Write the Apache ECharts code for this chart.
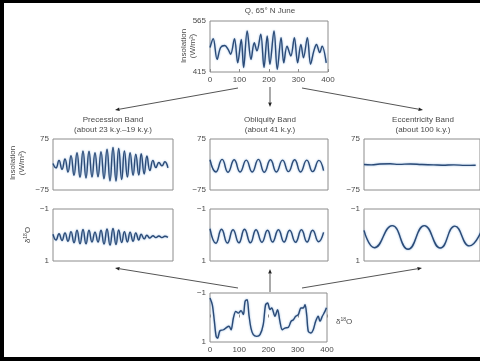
<!DOCTYPE html>
<html>
<head>
<meta charset="utf-8">
<script src="https://cdn.jsdelivr.net/npm/echarts@6/dist/echarts.min.js"></script>
<style>
html, body { margin: 0; padding: 0; background: #fff; }
#main { width: 480px; height: 361px; }
</style>
</head>
<body>
<div id="main"></div>
<script>
// ages in k.y. before present
const qAge = [0, 11, 24, 36, 50, 61, 70, 83, 94, 106, 114, 126, 139, 150, 159, 172, 183, 194, 203, 217, 228, 241, 250, 261, 274, 286, 297, 308, 317, 330, 341, 352, 361, 372, 380, 394];
const qVal = [487, 513, 452, 487, 493, 482, 467, 513, 442, 511, 428, 536, 452, 501, 477, 526, 428, 521, 438, 536, 423, 516, 442, 491, 462, 516, 442, 496, 457, 516, 438, 477, 496, 472, 491, 442];

const preAge = [0, 10, 20, 30, 40, 50, 60, 70, 80, 90, 100, 110, 120, 130, 140, 150, 160, 170, 180, 190, 200, 210, 219, 229, 238, 248, 257, 267, 276, 286, 294, 304, 313, 323, 333, 343, 353, 363, 373, 383];
const preIns = [3, -10, 12, -14, 16, -22, 26, -32, 35, -38, 40, -40, 39, -37, 35, -36, 38, -42, 45, -48, 50, -49, 47, -44, 40, -37, 35, -32, 30, -31, 32, -28, 25, -18, 12, -9, 6, -4, 8, -10];
const preD18 = [-0.03, 0.19, -0.05, 0.21, -0.08, 0.24, -0.13, 0.30, -0.18, 0.34, -0.21, 0.34, -0.18, 0.27, -0.11, 0.27, -0.18, 0.35, -0.23, 0.39, -0.25, 0.37, -0.19, 0.29, -0.13, 0.27, -0.11, 0.24, -0.08, 0.19, -0.03, 0.15, 0.01, 0.12, 0.03, 0.10, 0.04, 0.10, 0.05, 0.09];

const oblAge = [0, 20, 41, 61, 82, 102, 123, 143, 164, 184, 205, 225, 246, 266, 287, 307, 328, 348, 369, 385];
const oblIns = [14, -22, 15, -23, 14, -22, 13, -22, 15, -23, 14, -22, 13, -21, 14, -22, 13, -21, 12, -18];
const oblAgeD = [0, 20, 39, 59, 78, 98, 117, 137, 156, 176, 195, 212, 232, 251, 270, 290, 310, 329, 348, 368, 385];
const oblD18 = [-0.24, 0.32, -0.22, 0.31, -0.2, 0.3, -0.22, 0.3, -0.2, 0.28, -0.18, 0.27, -0.2, 0.27, -0.18, 0.28, -0.2, 0.27, -0.18, 0.26, -0.1];

const eccAge = [0, 25, 55, 90, 120, 160, 200, 240, 270, 310, 350, 385];
const eccIns = [0, -1, 1.5, 2, 0.5, 1.5, 0, -1, -2, -1, -2.5, -2];
const eccAgeD = [0, 36, 97, 152, 208, 263, 313, 363, 410];
const eccD18 = [-0.18, 0.49, -0.36, 0.55, -0.36, 0.5, -0.34, 0.42, -0.3];

const stackAge = [0, 8, 15, 21, 26, 34, 46, 57, 65, 72, 80, 88, 97, 106, 114, 120, 127, 133, 140, 148, 160, 171, 182, 190, 197, 205, 211, 222, 231, 239, 247, 256, 268, 277, 285, 293, 302, 311, 319, 325, 331, 336, 345, 353, 361, 370, 376, 384, 393, 398];
const stackD18 = [-0.80, -0.52, 0.16, 0.77, 0.84, 0.54, 0.50, 0.40, 0.36, 0.50, 0.02, -0.25, -0.18, -0.28, -0.12, -0.66, -0.73, -0.12, 0.43, 0.70, 0.77, 0.70, 0.29, -0.52, -0.59, -0.32, -0.39, -0.05, -0.32, 0.16, 0.50, 0.43, 0.40, 0.16, 0.09, -0.05, -0.12, -0.39, -0.39, -0.52, -0.05, 0.56, 0.63, 0.50, 0.16, -0.05, 0.16, -0.05, -0.25, -0.40];

const insRange = [-75, 75];
const d18Range = [-1, 1];
const qRange = [415, 565];

const FONT = '"Liberation Sans", Arial, sans-serif';
const TXT = '#4a4a4a';
const LINE = '#2b4a76';
const minus = v => String(v).replace('-', '\u2212');

// layout: [left, top, width, height]
const panels = [
    { box: [210, 21, 118, 51], age: qAge, val: qVal, range: qRange, inv: false, ticks: true, smooth: 0.35 },
    { box: [53, 139, 120, 51], age: preAge, val: preIns, range: insRange, inv: false, ticks: false, smooth: 0.5 },
    { box: [210, 139, 118, 51], age: oblAge, val: oblIns, range: insRange, inv: false, ticks: false, smooth: 0.5 },
    { box: [364, 139, 120, 51], age: eccAge, val: eccIns, range: insRange, inv: false, ticks: false, smooth: 0.5 },
    { box: [53, 209, 120, 52], age: preAge, val: preD18, range: d18Range, inv: true, ticks: false, smooth: 0.5 },
    { box: [210, 209, 118, 52], age: oblAgeD, val: oblD18, range: d18Range, inv: true, ticks: false, smooth: 0.5 },
    { box: [364, 209, 120, 52], age: eccAgeD, val: eccD18, range: d18Range, inv: true, ticks: false, smooth: 0.5 },
    { box: [210, 293, 117, 49], age: stackAge, val: stackD18, range: d18Range, inv: true, ticks: true, smooth: 0.3 }
];

const grid = [], xAxis = [], yAxis = [], series = [];
panels.forEach((p, i) => {
    grid.push({
        left: p.box[0], top: p.box[1], width: p.box[2], height: p.box[3],
        show: true, borderColor: '#8c8c8c', borderWidth: 1
    });
    xAxis.push({
        gridIndex: i, type: 'value', min: 0, max: 400, interval: 100,
        axisLine: { show: false },
        splitLine: { show: false },
        axisTick: { show: p.ticks, inside: true, length: 3, lineStyle: { color: '#8c8c8c' } },
        axisLabel: { show: p.ticks, fontSize: 8, color: TXT, margin: 4, fontFamily: FONT }
    });
    yAxis.push({
        gridIndex: i, type: 'value', min: p.range[0], max: p.range[1], inverse: p.inv,
        axisLine: { show: false },
        splitLine: { show: false },
        axisTick: { show: false },
        axisLabel: {
            customValues: p.range, formatter: minus,
            fontSize: 8, color: TXT, margin: 4, fontFamily: FONT
        }
    });
    series.push({
        type: 'line', xAxisIndex: i, yAxisIndex: i,
        data: p.age.map((a, k) => [a, p.val[k]]),
        showSymbol: false, smooth: p.smooth, silent: true,
        lineStyle: { color: LINE, width: 1.4, shadowColor: 'rgba(120,165,215,0.9)', shadowBlur: 2 }
    });
});

const text = (x, y, s, extra) => Object.assign({
    type: 'text', x: x, y: y,
    style: { text: s, align: 'center', verticalAlign: 'middle', fontSize: 8, fontFamily: FONT, fill: TXT, lineHeight: 9 }
}, extra || {});

const supRich = { s: { fontSize: 5, fontFamily: FONT, fill: TXT, padding: [0, 0, 4, 0] } };

function arrow(x1, y1, x2, y2) {
    const dx = x2 - x1, dy = y2 - y1, len = Math.hypot(dx, dy);
    const ux = dx / len, uy = dy / len, L = 4.5, W = 1.8;
    const bx = x2 - ux * L, by = y2 - uy * L;
    return [
        { type: 'line', shape: { x1: x1, y1: y1, x2: bx, y2: by }, style: { stroke: '#555', lineWidth: 1 } },
        { type: 'polygon', shape: { points: [[x2, y2], [bx - uy * W, by + ux * W], [bx + uy * W, by - ux * W]] }, style: { fill: '#222' } }
    ];
}

const graphic = [
    text(270, 11, 'Q, 65\u00b0 N June'),
    text(113, 120, 'Precession Band'),
    text(113, 130, '(about 23 k.y.\u201319 k.y.)'),
    text(270, 120, 'Obliquity Band'),
    text(270, 130, '(about 41 k.y.)'),
    text(423, 120, 'Eccentricity Band'),
    text(423, 130, '(about 100 k.y.)'),
    text(188, 46, 'Insolation\n(W/m\u00b2)', { rotation: Math.PI / 2 }),
    text(17, 163, 'Insolation\n(W/m\u00b2)', { rotation: Math.PI / 2 }),
    {
        type: 'text', x: 28, y: 235, rotation: Math.PI / 2,
        style: { text: '\u03b4{s|18}O', rich: supRich, align: 'center', verticalAlign: 'middle', fontSize: 8, fontFamily: FONT, fill: TXT }
    },
    {
        type: 'text', x: 336, y: 322,
        style: { text: '\u03b4{s|18}O', rich: supRich, align: 'left', verticalAlign: 'middle', fontSize: 8, fontFamily: FONT, fill: TXT }
    },
    ...arrow(238, 88, 115, 110),
    ...arrow(270, 87, 270, 107),
    ...arrow(302, 88, 423, 110),
    ...arrow(238, 288, 115, 268),
    ...arrow(270, 292, 270, 269),
    ...arrow(302, 288, 422, 268),
    { type: 'rect', shape: { x: 0, y: 0, width: 480, height: 3 }, style: { fill: '#000' } },
    { type: 'rect', shape: { x: 0, y: 0, width: 4, height: 361 }, style: { fill: '#000' } },
    { type: 'rect', shape: { x: 0, y: 357, width: 480, height: 4 }, style: { fill: '#000' } }
];

const chart = echarts.init(document.getElementById('main'));
chart.setOption({
    animation: false,
    backgroundColor: '#fff',
    grid: grid,
    xAxis: xAxis,
    yAxis: yAxis,
    series: series,
    graphic: graphic
});
</script>
</body>
</html>
